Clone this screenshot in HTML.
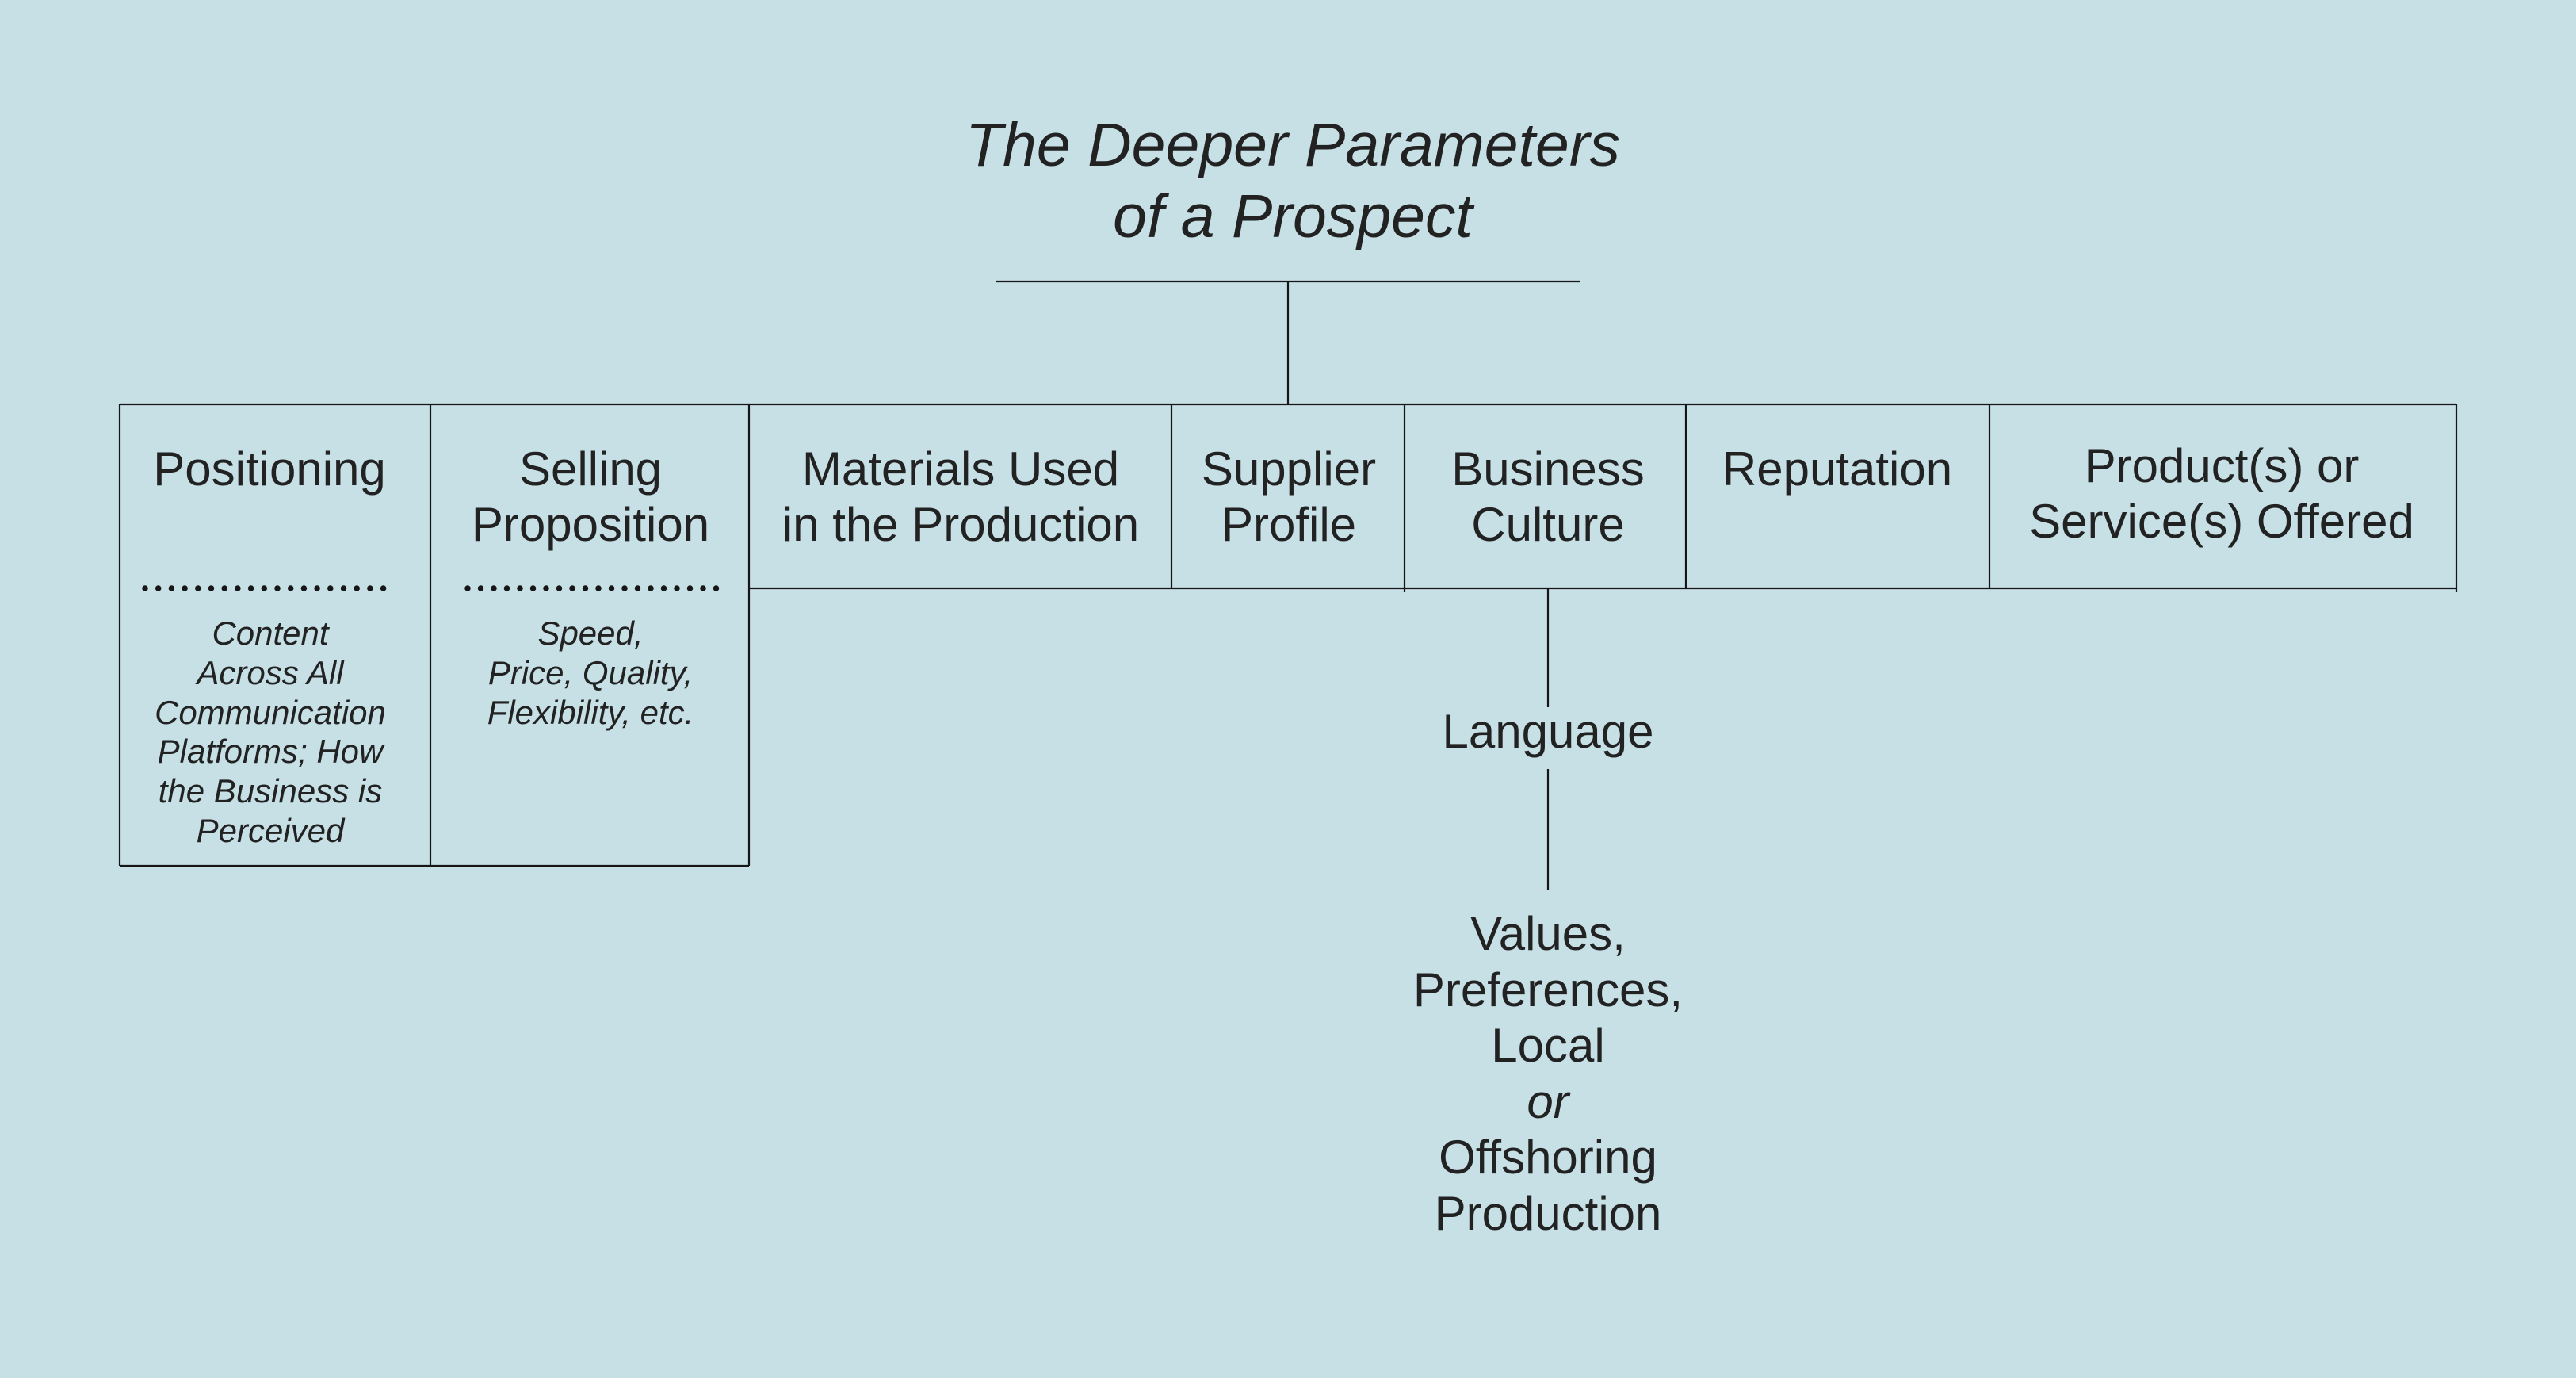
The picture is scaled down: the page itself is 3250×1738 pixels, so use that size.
<!DOCTYPE html>
<html><head><meta charset="utf-8"><style>
html,body{margin:0;padding:0;background:#c6e0e6;}
svg{display:block}
text{font-family:"Liberation Sans",sans-serif;fill:#222222;text-anchor:middle;}
.h{font-size:60px;}
.s{font-size:42px;font-style:italic;}
.t{font-size:77px;font-style:italic;}
</style></head><body>
<svg width="3250" height="1738" viewBox="0 0 3250 1738" xmlns="http://www.w3.org/2000/svg">
<rect width="3250" height="1738" fill="#c6e0e6"/>
<g stroke="#161616" stroke-width="2.2" fill="none">
<line x1="1256" y1="355" x2="1994" y2="355"/>
<line x1="1625" y1="355" x2="1625" y2="510"/>
<line x1="151" y1="510" x2="3099" y2="510"/>
<line x1="945" y1="742" x2="3099" y2="742"/>
<line x1="151" y1="1092" x2="945" y2="1092"/>
<line x1="151" y1="510" x2="151" y2="1092"/>
<line x1="543" y1="510" x2="543" y2="1092"/>
<line x1="945" y1="510" x2="945" y2="1092"/>
<line x1="1478" y1="510" x2="1478" y2="742"/>
<line x1="1772" y1="510" x2="1772" y2="747"/>
<line x1="2127" y1="510" x2="2127" y2="742"/>
<line x1="2510" y1="510" x2="2510" y2="742"/>
<line x1="3099" y1="510" x2="3099" y2="747"/>
<line x1="1953" y1="742" x2="1953" y2="892"/>
<line x1="1953" y1="970" x2="1953" y2="1123"/>
</g>
<line x1="183" y1="742" x2="500" y2="742" stroke="#161616" stroke-width="7.5" stroke-linecap="round" stroke-dasharray="0 16.7"/>
<line x1="590" y1="742" x2="904" y2="742" stroke="#161616" stroke-width="7.5" stroke-linecap="round" stroke-dasharray="0 16.5"/>
<text class="t" x="1631" y="209">The Deeper Parameters</text>
<text class="t" x="1631" y="299">of a Prospect</text>

<text class="h" x="340" y="612">Positioning</text>
<text class="h" x="745" y="612">Selling</text>
<text class="h" x="745" y="682">Proposition</text>
<text class="h" x="1212" y="612">Materials Used</text>
<text class="h" x="1212" y="682">in the Production</text>
<text class="h" x="1626" y="612">Supplier</text>
<text class="h" x="1626" y="682">Profile</text>
<text class="h" x="1953" y="612">Business</text>
<text class="h" x="1953" y="682">Culture</text>
<text class="h" x="2318" y="612">Reputation</text>
<text class="h" x="2803" y="608">Product(s) or</text>
<text class="h" x="2803" y="678">Service(s) Offered</text>

<text class="s" x="341" y="813">Content</text>
<text class="s" x="341" y="863">Across All</text>
<text class="s" x="341" y="913">Communication</text>
<text class="s" x="341" y="962">Platforms; How</text>
<text class="s" x="341" y="1012">the Business is</text>
<text class="s" x="341" y="1062">Perceived</text>

<text class="s" x="745" y="813">Speed,</text>
<text class="s" x="745" y="863">Price, Quality,</text>
<text class="s" x="745" y="913">Flexibility, etc.</text>

<text class="h" x="1953" y="943">Language</text>
<text class="h" x="1953" y="1198">Values,</text>
<text class="h" x="1953" y="1269">Preferences,</text>
<text class="h" x="1953" y="1339">Local</text>
<text class="h" x="1953" y="1410" font-style="italic">or</text>
<text class="h" x="1953" y="1480">Offshoring</text>
<text class="h" x="1953" y="1551">Production</text>
</svg>
</body></html>
